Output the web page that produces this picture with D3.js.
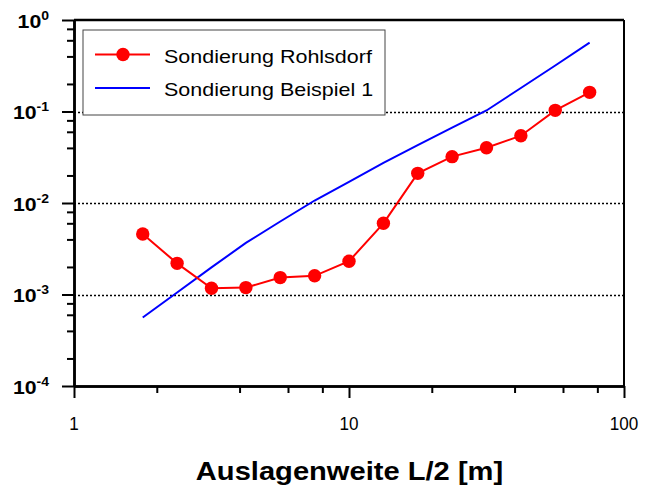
<!DOCTYPE html>
<html>
<head>
<meta charset="utf-8">
<script src="https://cdn.jsdelivr.net/npm/d3@7"></script>
<style>
  html, body { margin: 0; padding: 0; background: #fff; }
  svg { display: block; }
  text { font-family: "Liberation Sans", Arial, Helvetica, sans-serif; }
</style>
</head>
<body>
<svg id="chart" width="645" height="491"></svg>
<script>
// ---- data ----
const xValues = [1.778, 2.371, 3.162, 4.217, 5.623, 7.499, 10, 13.34, 17.78, 23.71, 31.62, 42.17, 56.23, 74.99];
const rohlsdorf = [0.00458, 0.00219, 0.00117, 0.00119, 0.00153, 0.00160, 0.00231, 0.0060, 0.0211, 0.0321, 0.0402, 0.0544, 0.103, 0.162];
const beispiel1 = [0.000561, 0.00105, 0.00198, 0.00366, 0.00628, 0.01065, 0.0170, 0.0274, 0.0430, 0.0668, 0.1026, 0.1806, 0.318, 0.565];
const seriesNames = ["Sondierung Rohlsdorf", "Sondierung Beispiel 1"];
const xTickValues = [1, 10, 100];
const xTickLabels = ["1", "10", "100"];
const yTickValues = [1e-4, 1e-3, 1e-2, 1e-1, 1];
const yTickExponents = ["-4", "-3", "-2", "-1", "0"];
const gridValues = [1e-3, 1e-2, 1e-1];
const xTitle = "Auslagenweite L/2 [m]";

(function () {
// ---- layout ----
const svg = d3.select("#chart");
const pL = 74, pR = 624, pT = 20, pB = 386;
const x = d3.scaleLog().domain([1, 100]).range([pL, pR]);
const y = d3.scaleLog().domain([1e-4, 1]).range([pB, pT]);
const SX = 1.12;

const minorX = [];
[1, 10].forEach(d => [2, 4, 6, 8].forEach(m => minorX.push(d * m)));
const minorY = [];
[1e-4, 1e-3, 1e-2, 1e-1].forEach(d => [2, 4, 6, 8].forEach(m => minorY.push(d * m)));

// gridlines
svg.append("g").selectAll("line").data(gridValues).join("line")
  .attr("x1", pL).attr("x2", pR)
  .attr("y1", d => Math.round(y(d)) + 0.5).attr("y2", d => Math.round(y(d)) + 0.5)
  .attr("stroke", "#000").attr("stroke-width", 1.6)
  .attr("stroke-dasharray", "2,2");

// frame: top and right
svg.append("line").attr("x1", pL).attr("x2", pR).attr("y1", pT).attr("y2", pT)
  .attr("stroke", "#000").attr("stroke-width", 2.5);
svg.append("line").attr("x1", pR).attr("x2", pR).attr("y1", pT).attr("y2", pB)
  .attr("stroke", "#000").attr("stroke-width", 2);

// x axis
const gxMinor = svg.append("g").attr("transform", `translate(0,${pB})`)
  .call(d3.axisBottom(x).tickValues(minorX).tickSize(7).tickSizeOuter(0).tickFormat(""));
const gx = svg.append("g").attr("transform", `translate(0,${pB})`)
  .call(d3.axisBottom(x).tickValues(xTickValues).tickSize(12).tickSizeOuter(0).tickFormat(""));
// y axis
const gyMinor = svg.append("g").attr("transform", `translate(${pL},0)`)
  .call(d3.axisLeft(y).tickValues(minorY).tickSize(7).tickSizeOuter(0).tickFormat(""));
const gy = svg.append("g").attr("transform", `translate(${pL},0)`)
  .call(d3.axisLeft(y).tickValues(yTickValues).tickSize(12).tickSizeOuter(0).tickFormat(""));

[gxMinor, gx, gyMinor, gy].forEach(g => {
  g.selectAll(".tick line").attr("stroke", "#000").attr("stroke-width", 2);
  g.select(".domain").attr("stroke", "#000").attr("stroke-width", 2.5);
});

// x tick labels
svg.append("g").selectAll("text").data(xTickValues).join("text")
  .attr("transform", d => `translate(${x(d)},430) scale(0.95,1)`)
  .attr("text-anchor", "middle")
  .attr("font-size", 18)
  .attr("fill", "#000")
  .text((d, i) => xTickLabels[i]);

// y tick labels with superscripts
const yl = svg.append("g").selectAll("text").data(yTickValues).join("text")
  .attr("transform", d => `translate(49,${y(d) + 7.5}) scale(${SX},1)`)
  .attr("text-anchor", "end")
  .attr("font-size", 19)
  .attr("font-weight", "bold")
  .attr("fill", "#000");
yl.append("tspan").text("10");
yl.append("tspan").attr("font-size", 12.5).attr("dy", -8).text((d, i) => yTickExponents[i]);

// x title
svg.append("text")
  .attr("transform", `translate(349.5,479.5) scale(${SX},1)`)
  .attr("text-anchor", "middle")
  .attr("font-size", 26)
  .attr("font-weight", "bold")
  .attr("fill", "#000")
  .text(xTitle);

// series
const line = d3.line().x(d => x(d[0])).y(d => y(d[1]));
const blueData = xValues.map((v, i) => [v, beispiel1[i]]);
const redData = xValues.map((v, i) => [v, rohlsdorf[i]]);

svg.append("path").datum(blueData).attr("d", line)
  .attr("fill", "none").attr("stroke", "#0000ff").attr("stroke-width", 2);
svg.append("path").datum(redData).attr("d", line)
  .attr("fill", "none").attr("stroke", "#ff0000").attr("stroke-width", 2);
svg.append("g").selectAll("circle").data(redData).join("circle")
  .attr("cx", d => x(d[0])).attr("cy", d => y(d[1])).attr("r", 6.7)
  .attr("fill", "#ff0000");

// legend
const lg = svg.append("g");
lg.append("rect").attr("x", 83).attr("y", 30).attr("width", 302).attr("height", 85)
  .attr("fill", "#fff").attr("stroke", "#444").attr("stroke-width", 1);
lg.append("line").attr("x1", 95).attr("x2", 150).attr("y1", 54.5).attr("y2", 54.5)
  .attr("stroke", "#ff0000").attr("stroke-width", 2);
lg.append("circle").attr("cx", 123).attr("cy", 54.5).attr("r", 6.7).attr("fill", "#ff0000");
lg.append("line").attr("x1", 95).attr("x2", 150).attr("y1", 88).attr("y2", 88)
  .attr("stroke", "#0000ff").attr("stroke-width", 2);
lg.selectAll("text.leg").data(seriesNames).join("text")
  .attr("class", "leg")
  .attr("transform", (d, i) => `translate(164,${i === 0 ? 62.5 : 96}) scale(${SX},1)`)
  .attr("font-size", 19.2)
  .attr("fill", "#000")
  .text(d => d);
})();
</script>
</body>
</html>
